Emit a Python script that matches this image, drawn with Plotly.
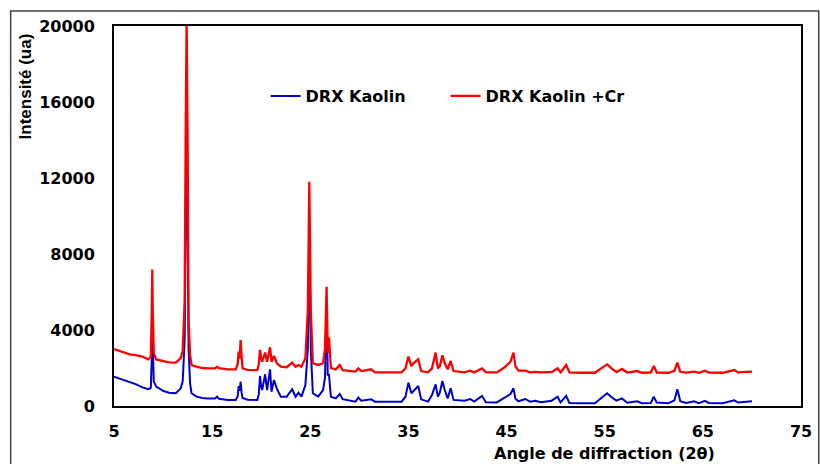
import plotly.graph_objects as go

# 2-theta positions (degrees)
two_theta = [
    5.0, 5.5, 6.0, 6.6, 7.2, 7.9, 8.5, 8.75, 8.85, 8.9, 8.95, 9.05, 9.3, 10.0, 10.6,
    11.3, 11.8, 12.0, 12.2, 12.3, 12.4, 12.5, 12.6, 12.75, 12.9, 13.4, 14.0, 14.6, 15.3, 15.5, 15.7,
    16.6, 17.4, 17.6, 17.7, 17.8, 17.9, 18.0, 18.1, 18.6, 19.6, 19.75, 19.88, 20.0, 20.1,
    20.4, 20.6, 20.9, 21.05, 21.3, 21.5, 21.6, 22.0, 22.6, 23.15, 23.5, 23.8, 24.1, 24.5,
    24.75, 24.9, 25.05, 25.26, 25.8, 26.3, 26.5, 26.66, 26.78, 26.9, 27.0, 27.1, 27.6,
    28.0, 28.3, 28.7, 29.6, 29.9, 30.2, 31.2, 31.6, 32.5, 33.5, 34.3, 34.7, 35.0, 35.3,
    35.5, 36.0, 36.3, 37.0, 37.4, 37.77, 38.0, 38.2, 38.46, 38.7, 39.0, 39.3, 39.6, 40.7,
    41.3, 41.7, 42.5, 42.9, 44.0, 44.7, 45.05, 45.4, 45.7, 45.9, 46.2, 46.9, 47.4, 47.9,
    48.5, 49.6, 50.2, 50.5, 51.07, 51.4, 52.5, 54.0, 54.9, 55.25, 55.7, 56.2, 56.75, 57.3,
    58.3, 58.8, 59.7, 60.0, 60.3, 61.5, 62.1, 62.4, 62.7, 63.3, 64.1, 64.6, 65.2, 65.6,
    67.0, 67.8, 68.2, 68.6, 70.0,
]

# Intensities (a.u.) - kaolin
kaolin = [
    1540, 1450, 1380, 1280, 1150, 980, 880, 950, 2500, 4500, 2500, 1300, 1020, 800, 700,
    670, 930, 1300, 3500, 9000, 16000, 9000, 3000, 1200, 670, 490, 420, 400, 400, 490, 380,
    320, 320, 500, 1050, 800, 1280, 700, 420, 330, 320, 600, 1580, 1000, 840,
    1670, 840, 1930, 750, 1370, 1020, 900, 490, 490, 880, 490, 700, 490, 1100,
    3000, 9000, 3000, 670, 490, 840, 1500, 5500, 1600, 1680, 1000, 490, 400,
    630, 360, 320, 230, 440, 275, 350, 230, 230, 230, 230, 490, 1230, 670,
    790, 1050, 350, 230, 580, 1140, 490, 700, 1320, 840, 400, 930, 320, 280,
    370, 230, 530, 200, 190, 400, 530, 630, 930, 400, 250, 370, 230, 280,
    200, 280, 490, 190, 530, 160, 150, 150, 530, 670, 460, 280, 400, 170,
    250, 150, 160, 490, 180, 150, 300, 880, 250, 160, 250, 150, 270, 160,
    150, 260, 300, 180, 250,
]

# Intensities (a.u.) - kaolin + Cr
kaolin_cr = [
    3000, 2900, 2820, 2720, 2680, 2600, 2450, 2600, 5000, 7190, 5000, 2800, 2450, 2350, 2300,
    2280, 2520, 2900, 5500, 14000, 20500, 14000, 4500, 2700, 2150, 2070, 2000, 1980, 1980, 2070, 1990,
    1930, 1930, 2200, 2860, 2500, 3470, 2600, 1980, 1900, 1890, 2200, 2950, 2500, 2330,
    2810, 2330, 3090, 2330, 2630, 2350, 2250, 2070, 2040, 2280, 2070, 2160, 2070, 2510,
    5000, 11800, 5000, 2250, 2160, 2250, 3000, 6280, 2800, 3610, 2500, 2000, 1930,
    2160, 1890, 1860, 1810, 1980, 1840, 1930, 1770, 1770, 1770, 1770, 1980, 2600, 2100,
    2250, 2460, 1840, 1770, 1980, 2810, 1980, 2100, 2670, 2250, 1930, 2370, 1840, 1770,
    1860, 1770, 1980, 1770, 1770, 2000, 2160, 2330, 2810, 2100, 1860, 1860, 1770, 1800,
    1770, 1790, 1980, 1770, 2160, 1770, 1750, 1750, 2070, 2190, 1980, 1780, 1950, 1760,
    1840, 1750, 1760, 2100, 1760, 1750, 1850, 2280, 1800, 1760, 1810, 1750, 1860, 1760,
    1750, 1820, 1890, 1770, 1810,
]

series_names = ["DRX Kaolin", "DRX Kaolin +Cr"]
x_ticks = [5, 15, 25, 35, 45, 55, 65, 75]
y_ticks = [0, 4000, 8000, 12000, 16000, 20000]
y_tick_text = ["0", "4000", "8000", "12000", "16000", "20000"]

W, H = 820, 464
L, R, T, B = 114, 8, 26, 58
pw, ph = W - L - R, H - T - B

def px(x):
    return (x - L) / pw

def py(y):
    return (H - B - y) / ph

fig = go.Figure()
fig.add_trace(go.Scatter(x=two_theta, y=kaolin, mode="lines", name=series_names[0],
                         line=dict(color="#0000CC", width=2)))
fig.add_trace(go.Scatter(x=two_theta, y=kaolin_cr, mode="lines", name=series_names[1],
                         line=dict(color="#FF0000", width=2.3)))

tick_font = dict(family="DejaVu Sans", size=16, color="black", weight="bold")

fig.update_layout(
    width=W, height=H,
    margin=dict(l=L, r=R, t=T, b=B),
    paper_bgcolor="white", plot_bgcolor="white",
    showlegend=True,
    legend=dict(orientation="h", x=px(268), xanchor="left", y=py(79), yanchor="top",
                font=dict(family="DejaVu Sans", size=16, color="black", weight="bold"),
                bgcolor="rgba(0,0,0,0)", entrywidth=135, entrywidthmode="pixels",
                itemwidth=30),
    xaxis=dict(range=[5, 75], tickvals=x_ticks, showgrid=False, zeroline=False,
               showline=True, linecolor="black", linewidth=2, mirror=True,
               ticks="", tickfont=tick_font, ticklabelstandoff=10,
               ticklabeloverflow="allow"),
    yaxis=dict(range=[0, 20000], tickvals=y_ticks, ticktext=y_tick_text, showgrid=False,
               zeroline=False, showline=True, linecolor="black", linewidth=2, mirror=True,
               ticks="", tickfont=tick_font, ticklabelstandoff=14),
)

# outer chart-area border
fig.add_shape(type="rect", xref="paper", yref="paper",
              x0=px(9), y0=py(474), x1=px(830), y1=py(11),
              line=dict(color="#404040", width=1.5), layer="below")

fig.add_annotation(text="Angle de diffraction (2θ)", xref="paper", yref="paper",
                   x=px(612), y=py(453), xanchor="center", yanchor="middle", showarrow=False,
                   font=dict(family="DejaVu Sans", size=16, color="black", weight="bold"))
fig.add_annotation(text="Intensité (ua)", xref="paper", yref="paper",
                   x=px(24), y=py(86), xanchor="center", yanchor="middle",
                   textangle=-90, showarrow=False,
                   font=dict(family="Liberation Sans", size=17, color="black", weight="bold"))

fig.write_html("out.html")
